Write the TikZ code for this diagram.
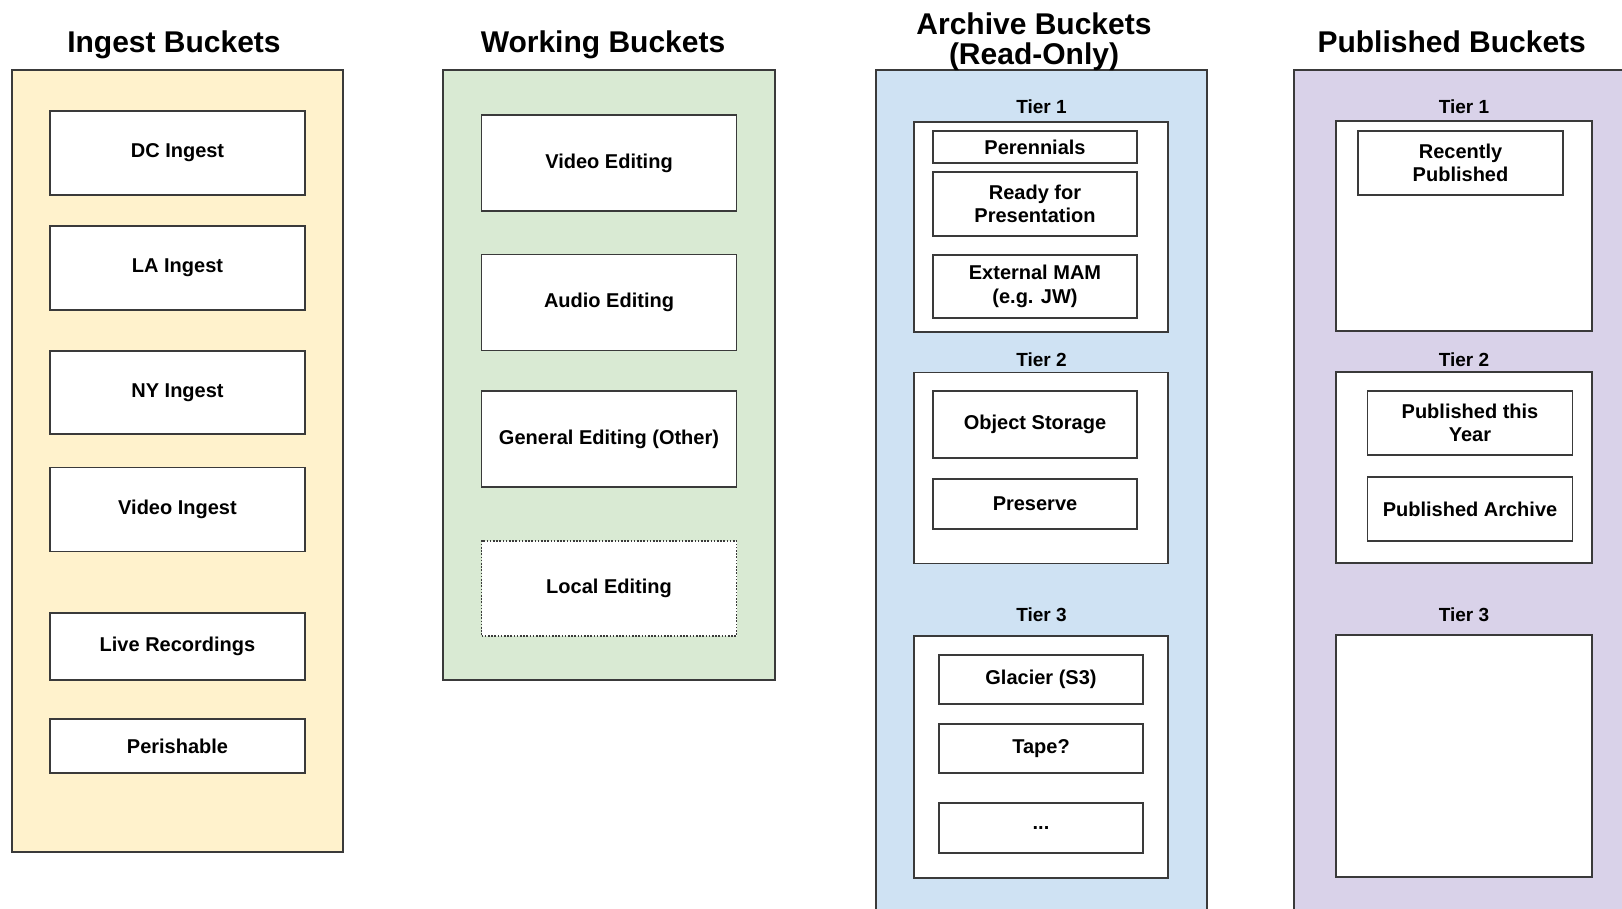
\documentclass[tikz,border=0pt]{standalone}
\usepackage{fontspec}
\setmainfont{Liberation Sans}
\definecolor{strokec}{HTML}{3A3A3A}
\definecolor{ingestc}{HTML}{FFF2CC}
\definecolor{workc}{HTML}{D9EAD3}
\definecolor{archc}{HTML}{CFE2F3}
\definecolor{pubc}{HTML}{D9D2E9}
\tikzset{
  cont/.style={draw=strokec, line width=1.6pt, inner sep=0pt, minimum width=331pt},
  bx/.style={draw=strokec, line width=1.6pt, fill=white, inner sep=0pt, align=center,
    font=\fontsize{20}{23.5}\selectfont\bfseries},
  tierbox/.style={draw=strokec, line width=1.6pt, fill=white, inner sep=0pt},
  ttl/.style={inner sep=0pt, align=center, anchor=base, font=\fontsize{30}{30}\selectfont\bfseries},
  tierlbl/.style={inner sep=0pt, anchor=base, font=\fontsize{19}{19}\selectfont\bfseries},
}
\begin{document}
\begin{tikzpicture}[x=1pt,y=-1pt]
\clip (0,0) rectangle (1622,908);
\fill[white] (0,0) rectangle (1622,908);

% Ingest
\node[ttl] (tIngest) at (174,52) {Ingest Buckets};
\node[cont, fill=ingestc, minimum height=782pt] (cIngest) at (177.5,461) {};
\node[bx, minimum width=255pt, minimum height=84pt] (dc) at (177.5,153) {DC Ingest};
\node[bx, minimum width=255pt, minimum height=84pt] (la) at (177.5,268) {LA Ingest};
\node[bx, minimum width=255pt, minimum height=83pt] (ny) at (177.5,392.5) {NY Ingest};
\node[bx, minimum width=255pt, minimum height=84pt] (vi) at (177.5,509.5) {Video Ingest};
\node[bx, minimum width=255pt, minimum height=67pt] (live) at (177.5,646.5) {Live Recordings};
\node[bx, minimum width=255pt, minimum height=54pt] (per) at (177.5,746) {Perishable};

% Working
\node[ttl] (tWork) at (603,52) {Working Buckets};
\node[cont, fill=workc, minimum width=332pt, minimum height=610pt] (cWork) at (609,375) {};
\node[bx, minimum width=255pt, minimum height=96pt] (ve) at (609,163) {Video Editing};
\node[bx, minimum width=255pt, minimum height=96pt] (ae) at (609,302.6) {Audio Editing};
\node[bx, minimum width=255pt, minimum height=96pt] (ge) at (609,439) {General Editing (Other)};
\node[bx, dash pattern=on 1.6pt off 1.6pt, minimum width=255pt, minimum height=95pt] (le) at (609,588.3) {Local Editing};

% Archive
\node[cont, fill=archc, minimum height=860pt] (cArch) at (1041.5,500) {};
\node[ttl] (tArch) at (1034,64) {Archive Buckets\\(Read-Only)};
\node[tierlbl] (a1l) at (1041.5,113) {Tier 1};
\node[tierbox, minimum width=254pt, minimum height=210pt] (a1) at (1041,227) {};
\node[bx, minimum width=204pt, minimum height=32pt] (peren) at (1035,147) {Perennials};
\node[bx, minimum width=204pt, minimum height=64pt] (ready) at (1035,204) {Ready for\\Presentation};
\node[bx, minimum width=204pt, minimum height=63pt] (mam) at (1035,286.5) {External MAM\\(e.g. JW)};
\node[tierlbl] (a2l) at (1041.5,366.5) {Tier 2};
\node[tierbox, minimum width=254pt, minimum height=191pt] (a2) at (1041,468) {};
\node[bx, minimum width=204pt, minimum height=67pt] (obj) at (1035,424.5) {Object Storage};
\node[bx, minimum width=204pt, minimum height=50pt] (pres) at (1035,504) {Preserve};
\node[tierlbl] (a3l) at (1041.5,621.7) {Tier 3};
\node[tierbox, minimum width=254pt, minimum height=242pt] (a3) at (1041,757) {};
\node[bx, minimum width=204pt, minimum height=49pt] (glac) at (1041,679.5) {Glacier (S3)};
\node[bx, minimum width=204pt, minimum height=49pt] (tape) at (1041,748.5) {Tape?};
\node[bx, minimum width=204pt, minimum height=50pt] (dots) at (1041,828) {...};

% Published
\node[ttl] (tPub) at (1451.7,52) {Published Buckets};
\node[cont, fill=pubc, minimum height=860pt] (cPub) at (1459.5,500) {};
\node[tierlbl] (p1l) at (1464,113) {Tier 1};
\node[tierbox, minimum width=256pt, minimum height=210pt] (p1) at (1464,226) {};
\node[bx, minimum width=205pt, minimum height=64pt] (recent) at (1460.5,163) {Recently\\Published};
\node[tierlbl] (p2l) at (1464,366.5) {Tier 2};
\node[tierbox, minimum width=256pt, minimum height=191pt] (p2) at (1464,467.5) {};
\node[bx, minimum width=205pt, minimum height=64pt] (pty) at (1470,423) {Published this\\Year};
\node[bx, minimum width=205pt, minimum height=64pt] (parch) at (1470,509) {Published Archive};
\node[tierlbl] (p3l) at (1464,621.7) {Tier 3};
\node[tierbox, minimum width=256pt, minimum height=242pt] (p3) at (1464,756) {};
\end{tikzpicture}
\end{document}
